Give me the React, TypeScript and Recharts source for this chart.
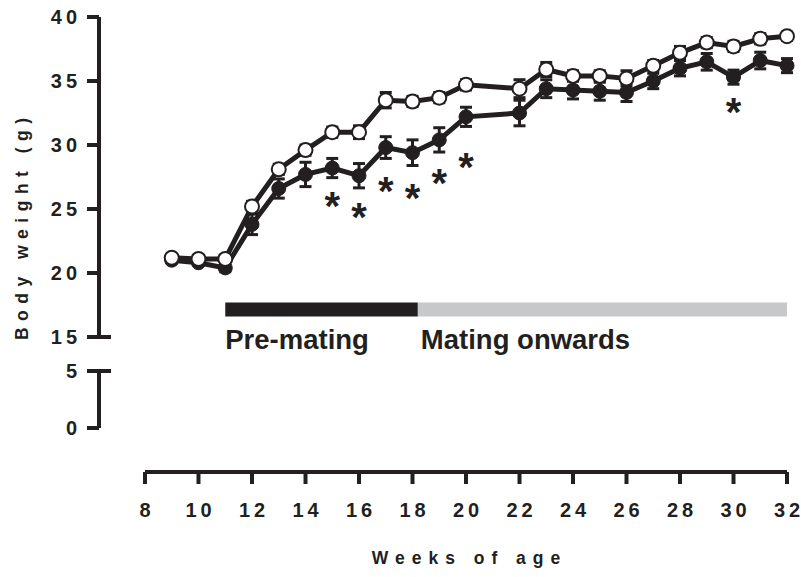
import React from "react";
import {
  ComposedChart,
  Line,
  XAxis,
  YAxis,
  ErrorBar,
  Scatter,
  ReferenceArea,
  Label,
} from "recharts";

// the figure fills the whole page
if (typeof document !== "undefined") document.body.style.margin = "0";

const INK = "#231f20";
const GREY = "#c7c8ca";
const FONT = "'Liberation Sans', Arial, Helvetica, sans-serif";

// weeks of age (no weighing at week 21)
const weeks = [9, 10, 11, 12, 13, 14, 15, 16, 17, 18, 19, 20, 22, 23, 24, 25, 26, 27, 28, 29, 30, 31, 32];
// open circles
const controlMean = [21.2, 21.1, 21.1, 25.2, 28.1, 29.6, 31.0, 31.0, 33.5, 33.4, 33.7, 34.7, 34.4, 35.9, 35.4, 35.4, 35.2, 36.2, 37.2, 38.0, 37.7, 38.3, 38.5];
const controlSem = [0.2, 0.2, 0.2, 0.4, 0.4, 0.4, 0.4, 0.5, 0.6, 0.4, 0.4, 0.4, 0.7, 0.55, 0.4, 0.4, 0.6, 0.4, 0.5, 0.4, 0.4, 0.4, 0.3];
// filled circles
const treatedMean = [21.0, 20.8, 20.4, 23.8, 26.6, 27.7, 28.2, 27.6, 29.8, 29.4, 30.4, 32.2, 32.5, 34.4, 34.3, 34.2, 34.1, 35.0, 36.0, 36.5, 35.3, 36.6, 36.2];
const treatedSem = [0.2, 0.2, 0.3, 0.8, 0.75, 0.95, 0.75, 0.95, 0.85, 1.0, 0.95, 0.75, 1.0, 0.7, 0.7, 0.7, 0.7, 0.6, 0.6, 0.65, 0.55, 0.65, 0.55];

// significance markers
const starWeeks = [15, 16, 17, 18, 19, 20, 30];
const starHeights = [25.9, 25.1, 27.1, 26.6, 27.7, 29.0, 33.3];

const xTicks = [8, 10, 12, 14, 16, 18, 20, 22, 24, 26, 28, 30, 32];
const upperTicks = [15, 20, 25, 30, 35, 40];
const lowerTicks = [0, 5];

const phaseLabels = ["Pre-mating", "Mating onwards"];
const phaseStart = [11, 18.2];
const phaseEnd = [18.2, 32];
const phaseFill = [INK, GREY];
const PHASE_LOW = 16.6;
const PHASE_HIGH = 17.7;

const data = weeks.map((w, i) => ({
  week: w,
  ctrl: controlMean[i],
  ctrlSem: controlSem[i],
  trt: treatedMean[i],
  trtSem: treatedSem[i],
}));
const stars = starWeeks.map((w, i) => ({ week: w, y: starHeights[i] }));

const W = 801;
const H = 577;
const SPACING = 4;
const tickText = {
  fontFamily: FONT,
  fontWeight: 700,
  fontSize: 20,
  fill: INK,
};

// spaced-out digits without trailing space
const spaced = (v: any) =>
  String(v)
    .split("")
    .map((c, i) => (
      <tspan key={i} dx={i ? SPACING : 0}>
        {c}
      </tspan>
    ));

function YTick(props: any) {
  const { x, y, payload, breakAt } = props;
  return (
    <g>
      <text x={x} y={y} dy="0.36em" textAnchor="end" style={tickText}>
        {spaced(payload.value)}
      </text>
      {payload.value === breakAt && (
        <line x1={x + 22} x2={x + 34} y1={y} y2={y} stroke={INK} strokeWidth={4} />
      )}
    </g>
  );
}

function XTick(props: any) {
  const { x, y, payload } = props;
  return (
    <text x={x} y={y} dy="0.71em" textAnchor="middle" style={tickText}>
      {spaced(payload.value)}
    </text>
  );
}

function Star(props: any) {
  return (
    <text
      x={props.cx}
      y={props.cy}
      dy={23}
      textAnchor="middle"
      style={{ fontFamily: FONT, fontWeight: 700, fontSize: 40, fill: INK }}
    >
      *
    </text>
  );
}

const axisStroke = { stroke: INK, strokeWidth: 4 };

export default function App() {
  return (
    <div style={{ position: "relative", width: W, height: H }}>
      {/* upper part of the broken y axis, with the data */}
      <div style={{ position: "absolute", left: 0, top: 0 }}>
        <ComposedChart width={W} height={H} data={data} margin={{ top: 17, right: 14, bottom: 240, left: 0 }}>
          <XAxis dataKey="week" type="number" domain={[8, 32]} padding={{ left: 46, right: 0 }} hide />
          <YAxis
            type="number"
            domain={[15, 40]}
            ticks={upperTicks}
            width={99}
            tickSize={12}
            tickMargin={10}
            axisLine={axisStroke}
            tickLine={axisStroke}
            tick={(p: any) => <YTick {...p} breakAt={15} />}
          >
            <Label
              content={(p: any) => {
                const vb = p.viewBox;
                const cx = vb.x + 22;
                const cy = vb.y + 212;
                return (
                  <text
                    x={cx}
                    y={cy}
                    dx={3.25}
                    dy="0.35em"
                    textAnchor="middle"
                    transform={`rotate(-90 ${cx} ${cy})`}
                    style={{ fontFamily: FONT, fontWeight: 700, fontSize: 17.5, letterSpacing: 6.5, fill: INK }}
                  >
                    Body weight (g)
                  </text>
                );
              }}
            />
          </YAxis>
          {phaseLabels.map((name, i) => (
            <ReferenceArea
              key={name}
              x1={phaseStart[i]}
              x2={phaseEnd[i]}
              y1={PHASE_LOW}
              y2={PHASE_HIGH}
              fill={phaseFill[i]}
              fillOpacity={1}
              stroke="none"
            >
              <Label
                content={(p: any) => {
                  const vb = p.viewBox;
                  return (
                    <text
                      x={vb.x + (i === 0 ? 0 : 3)}
                      y={vb.y + vb.height + 32}
                      style={{ fontFamily: FONT, fontWeight: 700, fontSize: 27.5, fill: INK }}
                    >
                      {name}
                    </text>
                  );
                }}
              />
            </ReferenceArea>
          ))}
          <Line
            dataKey="trt"
            type="linear"
            stroke={INK}
            strokeWidth={5}
            dot={{ r: 7, fill: INK, stroke: INK, strokeWidth: 1 }}
            isAnimationActive={false}
          >
            <ErrorBar dataKey="trtSem" direction="y" width={6} stroke={INK} strokeWidth={3} />
          </Line>
          <Line
            dataKey="ctrl"
            type="linear"
            stroke={INK}
            strokeWidth={5}
            dot={{ r: 7, fill: "#fff", stroke: INK, strokeWidth: 2 }}
            isAnimationActive={false}
          >
            <ErrorBar dataKey="ctrlSem" direction="y" width={6} stroke={INK} strokeWidth={3} />
          </Line>
          <Scatter data={stars} dataKey="y" shape={Star} isAnimationActive={false} />
        </ComposedChart>
      </div>

      {/* lower part of the broken y axis */}
      <div style={{ position: "absolute", left: 0, top: 0 }}>
        <ComposedChart width={W} height={H} data={data} margin={{ top: 371, right: 14, bottom: 149, left: 0 }}>
          <XAxis dataKey="week" type="number" domain={[8, 32]} hide />
          <YAxis
            type="number"
            domain={[0, 5]}
            allowDataOverflow
            ticks={lowerTicks}
            width={99}
            tickSize={12}
            tickMargin={10}
            axisLine={axisStroke}
            tickLine={axisStroke}
            tick={(p: any) => <YTick {...p} breakAt={5} />}
          />
        </ComposedChart>
      </div>

      {/* x axis */}
      <div style={{ position: "absolute", left: 0, top: 0 }}>
        <ComposedChart width={W} height={H} data={data} margin={{ top: 0, right: 14, bottom: 0, left: 145 }}>
          <YAxis hide />
          <XAxis
            dataKey="week"
            type="number"
            domain={[8, 32]}
            ticks={xTicks}
            height={105}
            tickSize={12}
            tickMargin={19}
            axisLine={axisStroke}
            tickLine={axisStroke}
            tick={XTick}
          >
            <Label
              content={(p: any) => {
                const vb = p.viewBox;
                return (
                  <text
                    x={vb.x + vb.width / 2}
                    y={vb.y + 92}
                    dx={3.5}
                    textAnchor="middle"
                    style={{ fontFamily: FONT, fontWeight: 700, fontSize: 17.5, letterSpacing: 7, fill: INK }}
                  >
                    Weeks of age
                  </text>
                );
              }}
            />
          </XAxis>
        </ComposedChart>
      </div>
    </div>
  );
}
